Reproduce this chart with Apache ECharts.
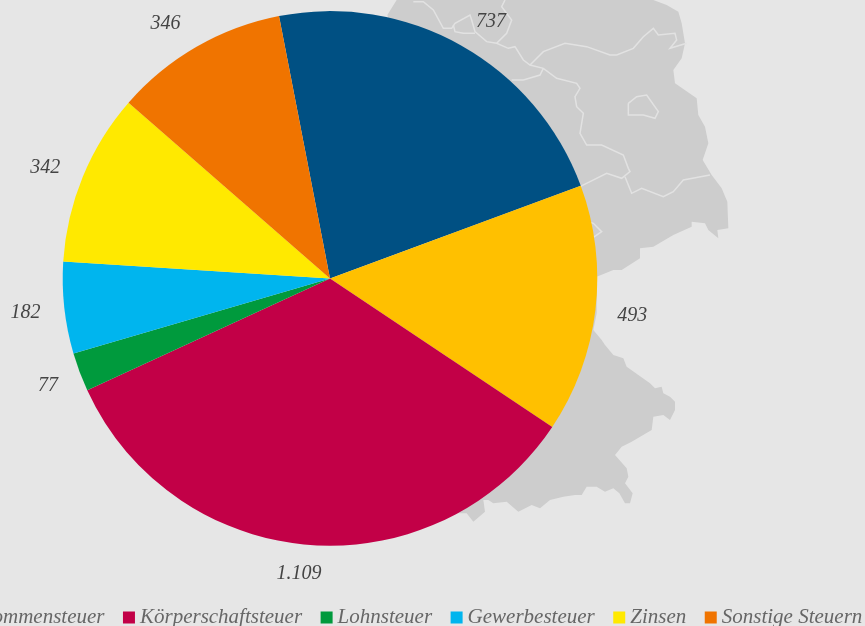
<!DOCTYPE html>
<html><head><meta charset="utf-8">
<style>html,body{margin:0;padding:0;background:#e6e6e6}#c{width:865px;height:626px}</style>
<script src="https://cdn.jsdelivr.net/npm/echarts@6/dist/echarts.min.js"></script>
</head><body><div id="c"></div>
<script>
const categories=['Umsatzsteuer','Einkommensteuer','Körperschaftsteuer','Lohnsteuer','Gewerbesteuer','Zinsen','Sonstige Steuern'];
const values=[737,493,1109,77,182,342,346];
const colors=['#005083','#ffc000','#c20047','#009a3d','#00b5ee','#ffe900','#f07400'];
const labelNudges=[[0,-6],[-3,4],[19,9],[2,7],[1,3],[1,-1],[-1,-6]];

// decorative background map, in reference pixels
const z2=p=>[380+p[0]/3,p[1]/3];
const z3=p=>[450+p[0]/3,220+p[1]/3];
const mapOutline=[
 ...[[22,45],[50,0],[820,0],[860,15],[895,35],[905,70],[915,130],[905,175],[880,210],[885,250],[950,295],[955,345],[975,380],[985,430],[968,480],[995,525],[1025,565],[1042,605],[1045,685],[1012,690],[1015,715],[985,690],[975,670],[935,665],[935,680],[880,705],[820,740],[780,745]].map(z2),
 ...[[570,115],[515,150],[490,150],[440,170],[440,280],[430,330],[455,360],[465,375],[490,405],[520,415],[530,440],[600,490],[615,505],[635,500],[640,520],[660,530],[675,545],[675,570],[660,600],[640,585],[610,590],[605,630],[545,665],[515,680],[495,705],[530,745],[535,770],[525,790],[548,820],[540,850],[525,850],[508,820],[490,805],[465,815],[440,800],[410,800],[395,825],[375,825],[340,830],[300,840],[270,865],[245,855],[205,875],[170,845],[130,850],[115,840],[100,840],[105,875],[70,905],[50,880],[0,880],[0,0]].map(z3)
];
const mapBorders=[
 [[100,5],[130,5],[160,30],[190,85],[215,85],[225,70],[270,45],[275,60],[285,95],[320,125],[350,130],[385,145],[405,140],[430,180],[450,195],[490,205],[530,235],[590,250],[600,265],[585,290],[590,320],[610,340],[600,400],[620,435],[665,435],[730,465],[745,505],[750,515],[725,535],[680,520],[600,560]],
 [[220,75],[225,95],[250,100],[285,100]],
 [[375,0],[365,20],[395,60],[380,100],[350,130]],
 [[450,195],[490,155],[555,130],[620,140],[690,165],[710,165],[760,145],[790,110],[820,85],[835,105],[885,100],[890,120],[870,145],[920,130]],
 [[490,205],[480,225],[430,240],[395,240]],
 [[735,530],[755,580],[785,565],[850,590],[880,575],[910,540],[990,525]],
 [[745,310],[770,290],[800,285],[835,335],[825,355],[790,345],[745,345],[745,310]],
 [[610,660],[640,670],[665,695],[640,712]]
];

const chart=echarts.init(document.getElementById('c'),null,{renderer:'canvas'});
chart.setOption({
 animation:false,
 backgroundColor:'#e6e6e6',
 color:colors,
 graphic:[
  {type:'polygon',z:-10,silent:true,shape:{points:mapOutline},style:{fill:'#cdcdcd'}},
  ...mapBorders.map(b=>({type:'polyline',z:-9,silent:true,shape:{points:b.map(z2)},style:{fill:null,stroke:'#e2e2e2',lineWidth:1.5}}))
 ],
 legend:{
  left:-68,top:602,width:1400,itemWidth:12,itemHeight:12,itemGap:18.5,
  icon:'rect',
  textStyle:{fontFamily:'Liberation Serif',fontStyle:'italic',fontSize:21,color:'#666',padding:[0,0,8,0]},
  data:categories.slice(1)
 },
 series:[{
  type:'pie',center:[330,278.4],radius:[0,267.3],startAngle:101,clockwise:true,
  avoidLabelOverlap:false,
  labelLine:{show:false,length:20,length2:0},
  label:{show:true,position:'outside',fontFamily:'Liberation Serif',fontStyle:'italic',fontSize:20,color:'#444',
   formatter:p=>p.value.toLocaleString('de-DE')},
  labelLayout:p=>({dx:labelNudges[p.dataIndex][0],dy:labelNudges[p.dataIndex][1]}),
  data:categories.map((n,i)=>({name:n,value:values[i]}))
 }]
});
</script></body></html>
